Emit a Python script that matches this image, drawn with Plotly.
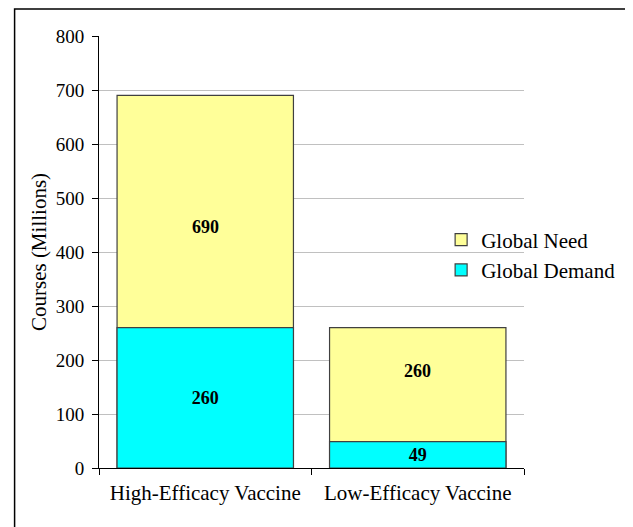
import plotly.graph_objects as go

categories = ["High-Efficacy Vaccine", "Low-Efficacy Vaccine"]
global_need = [690, 260]
global_demand = [260, 49]

# label heights for the Global Need labels (data units)
need_label_y = [446, 180]

FONT = "Liberation Serif"

fig = go.Figure()
fig.add_trace(go.Bar(
    x=categories, y=global_need, name="Global Need",
    marker=dict(color="#FFFF99", line=dict(color="#404040", width=1.2)),
))
fig.add_trace(go.Bar(
    x=categories, y=global_demand, name="Global Demand",
    marker=dict(color="#00FFFF", line=dict(color="#404040", width=1.2)),
    text=[str(v) for v in global_demand], textposition="inside",
    insidetextanchor="middle",
    textfont=dict(family=FONT, size=18, color="black", weight="bold"),
))

for c, v, ly in zip(categories, global_need, need_label_y):
    fig.add_annotation(x=c, y=ly, xref="x", yref="y", text=f"<b>{v}</b>",
                       showarrow=False, font=dict(family=FONT, size=18, color="black"))

fig.add_shape(type="rect", xref="paper", yref="paper",
              x0=-0.1986, x1=1.2453, y0=-0.3, y1=1.0625,
              line=dict(color="black", width=1.5), fillcolor="rgba(0,0,0,0)", layer="above")

fig.update_layout(
    width=625, height=519,
    margin=dict(l=91, r=106, t=28, b=59),
    barmode="overlay", bargap=0.17,
    paper_bgcolor="white", plot_bgcolor="white",
    font=dict(family=FONT, size=18, color="black"),
    showlegend=True,
    legend=dict(x=0.805, y=0.493, xanchor="left", yanchor="middle",
                font=dict(family=FONT, size=21), bgcolor="rgba(0,0,0,0)",
                itemwidth=30, tracegroupgap=0),
    xaxis=dict(showline=True, linecolor="black", linewidth=1, ticks="outside",
               tickson="boundaries", ticklen=6, tickcolor="black",
               ticklabelstandoff=6,
               tickfont=dict(family=FONT, size=21)),
    yaxis=dict(range=[0, 800], dtick=100, showline=True, linecolor="black",
               linewidth=1, ticks="outside", ticklen=6, tickcolor="black",
               showgrid=True, gridcolor="#c0c0c0", gridwidth=1,
               ticklabelstandoff=4,
               tickfont=dict(family=FONT, size=19),
               title=dict(text="Courses (Millions)", font=dict(family=FONT, size=21), standoff=3)),
)

fig.write_html("out.html")
